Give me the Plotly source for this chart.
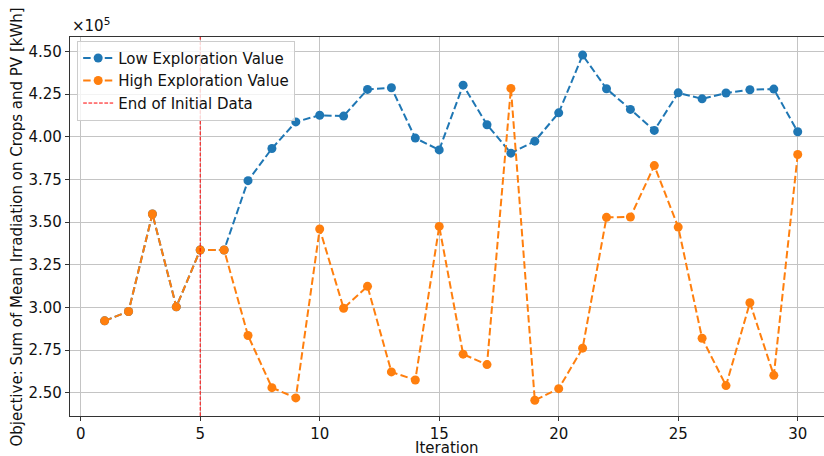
import plotly.graph_objects as go

# Iterations and objective values (kWh)
iterations = list(range(1, 31))
low_exploration = [292200, 297700, 354800, 300400, 333700, 333700, 374300, 393100, 408700, 412600,
                   412100, 427700, 428700, 399200, 392300, 430200, 407000, 390400, 397400, 414000,
                   447800, 428100, 416000, 403700, 425700, 422200, 425600, 427500, 427900, 402900]
high_exploration = [292200, 297700, 354800, 300400, 333700, 333700, 283600, 253100, 247100, 346000,
                    299600, 312400, 262300, 257600, 347500, 272700, 266600, 428300, 245700, 252500,
                    276200, 352800, 353000, 383100, 347100, 282000, 254300, 302800, 260300, 389600]
initial_data_end = 5
scale = 1e5
y_ticks = [2.50, 2.75, 3.00, 3.25, 3.50, 3.75, 4.00, 4.25, 4.50]
y_range = [2.365, 4.584]
x_range = [-0.448, 31.10]

FONT = "DejaVu Sans"
BLUE = "#1f77b4"
ORANGE = "#ff7f0e"
TEXT = "#111111"

fig = go.Figure()
fig.add_trace(go.Scatter(
    x=iterations, y=[v / scale for v in low_exploration], mode="lines+markers",
    name="Low Exploration Value",
    line=dict(color=BLUE, width=2, dash="7.5px,3.3px"),
    marker=dict(color=BLUE, size=9),
))
fig.add_trace(go.Scatter(
    x=iterations, y=[v / scale for v in high_exploration], mode="lines+markers",
    name="High Exploration Value",
    line=dict(color=ORANGE, width=2, dash="7.5px,3.3px"),
    marker=dict(color=ORANGE, size=9),
))
fig.add_trace(go.Scatter(
    x=[initial_data_end, initial_data_end], y=y_range, mode="lines",
    name="End of Initial Data",
    line=dict(color="red", width=1, dash="3.7px,1.6px"),
))

axis_common = dict(
    showgrid=True, gridcolor="#c4c4c4", gridwidth=1,
    showline=True, linecolor="#333333", linewidth=1.2,
    ticks="outside", ticklen=4, tickcolor="#333333", tickwidth=1,
    tickfont=dict(family=FONT, size=15, color=TEXT),
    zeroline=False,
)

fig.update_xaxes(range=x_range, tickvals=[0, 5, 10, 15, 20, 25, 30], mirror=True, **axis_common)
fig.update_yaxes(range=y_range, tickvals=y_ticks, ticktext=[f"{t:.2f}" for t in y_ticks], **axis_common)

# Axis titles and the exponent label
fig.add_annotation(
    text="Iteration", xref="paper", yref="paper", x=0.5, y=-0.084,
    xanchor="center", yanchor="middle", showarrow=False,
    font=dict(family=FONT, size=15, color=TEXT),
)
fig.add_annotation(
    text="Objective: Sum of Mean Irradiation on Crops and PV [kWh]",
    xref="paper", yref="paper", x=-0.0703, y=0.5, textangle=-90,
    xanchor="center", yanchor="middle", showarrow=False,
    font=dict(family=FONT, size=15, color=TEXT),
)
fig.add_annotation(
    text="×10<sup>5</sup>", xref="paper", yref="paper", x=0, y=1,
    xanchor="left", yanchor="bottom", showarrow=False,
    font=dict(family=FONT, size=15, color=TEXT),
)

fig.update_layout(
    width=824, height=456,
    margin=dict(l=70, r=0, t=37, b=40),
    paper_bgcolor="white", plot_bgcolor="white",
    font=dict(family=FONT, size=15, color=TEXT),
    legend=dict(
        x=0.0095, y=0.990, xanchor="left", yanchor="top",
        bgcolor="rgba(255,255,255,0.8)", bordercolor="#cccccc", borderwidth=1,
        font=dict(family=FONT, size=15, color=TEXT),
        tracegroupgap=0, itemwidth=30,
    ),
    showlegend=True,
)

fig.write_html("out.html")
